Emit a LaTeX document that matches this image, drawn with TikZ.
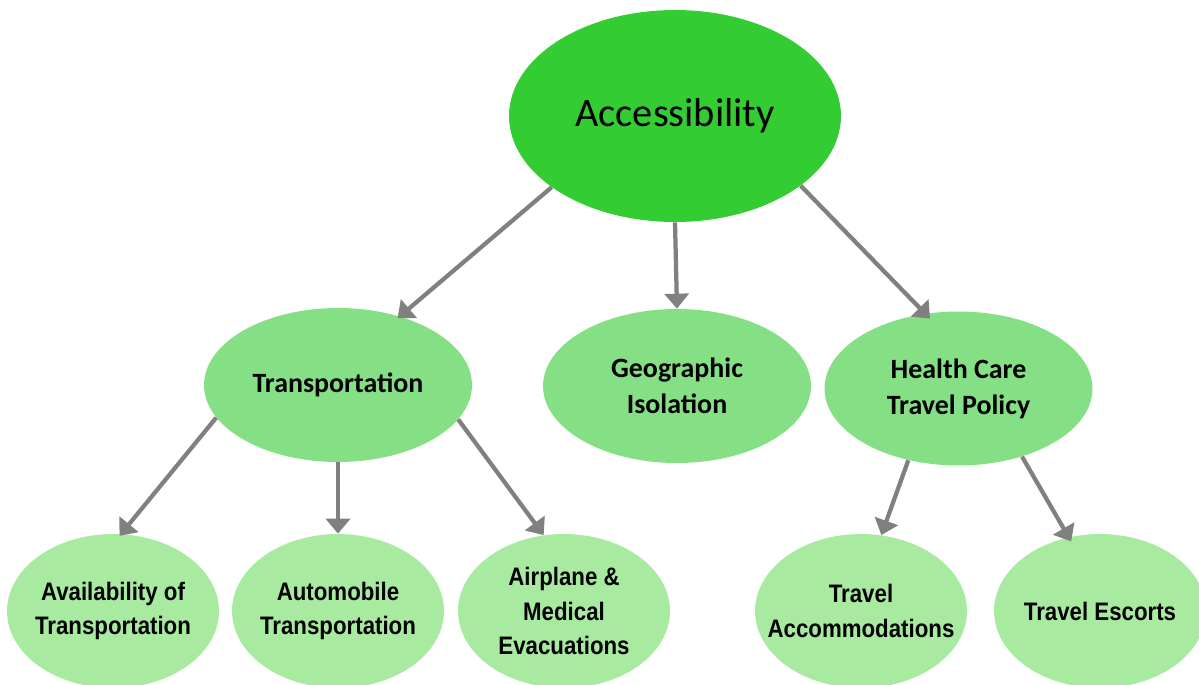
\documentclass[tikz,border=0pt]{standalone}
\usepackage{fontspec}
\setmainfont{Carlito}
\newfontfamily\narrowsans[FakeStretch=0.88]{Liberation Sans}
\usetikzlibrary{arrows.meta,shapes.geometric}
\definecolor{topgreen}{HTML}{33CC33}
\definecolor{midgreen}{HTML}{85E085}
\definecolor{botgreen}{HTML}{A8EBA0}
\definecolor{arrgray}{HTML}{808080}
\tikzset{
  accnode/.style={ellipse, fill=topgreen, inner sep=0pt, minimum width=6.64cm, minimum height=4.24cm,
    font=\fontsize{23}{27}\selectfont, text=black},
  midnode/.style={ellipse, fill=midgreen, inner sep=0pt, minimum width=5.36cm, minimum height=3.08cm,
    align=center, font=\fontsize{15.9}{20.4}\selectfont\bfseries, text=black},
  botnode/.style={ellipse, fill=botgreen, inner sep=0pt, minimum width=4.24cm, minimum height=3.08cm},
  botlabel/.style={align=center, inner sep=0pt, font=\narrowsans\fontsize{14.4}{19.8}\selectfont\bfseries, text=black},
  conn/.style={draw=arrgray, line width=0.085cm, -{Triangle[width=0.48cm,length=0.3cm]}, fill=arrgray}
}
\begin{document}
\begin{tikzpicture}[x=0.02cm,y=-0.02cm]
\useasboundingbox (0,0) rectangle (1199,684);
\node[accnode] (acc) at (675,116) {Accessibility};
\node[midnode] (trans) at (338,385) {Transportation};
\node[midnode] (geo) at (677,386) {Geographic\\Isolation};
\node[midnode] (hc) at (958.5,388.5) {Health Care\\Travel Policy};
\node[botnode, label={[botlabel]center:Availability of\\Transportation}] (avail) at (113,611) {};
\node[botnode, label={[botlabel]center:Automobile\\Transportation}] (auto) at (338,611) {};
\node[botnode, label={[botlabel]center:Airplane \&\\Medical\\Evacuations}] (air) at (564,611) {};
\node[botnode, label={[botlabel]center:Travel\\Accommodations}] (acco) at (861,611) {};
\node[botnode, label={[botlabel]center:Travel Escorts}] (esc) at (1100,611) {};

\draw[conn, shorten >=-0.06cm] (acc.210) -- (trans.48);
\draw[conn] (acc.270) -- (geo.90);
\draw[conn, shorten >=-0.14cm] (acc.331) -- (hc.114);
\draw[conn, shorten >=-0.05cm] (trans.195) -- (avail.84);
\draw[conn] (trans.270) -- (auto.90);
\draw[conn] (trans.344) -- (air.105);
\draw[conn] (hc.235) -- (acco.75);
\draw[conn, shorten >=-0.1cm] (hc.313) -- (esc.113);
\end{tikzpicture}
\end{document}
